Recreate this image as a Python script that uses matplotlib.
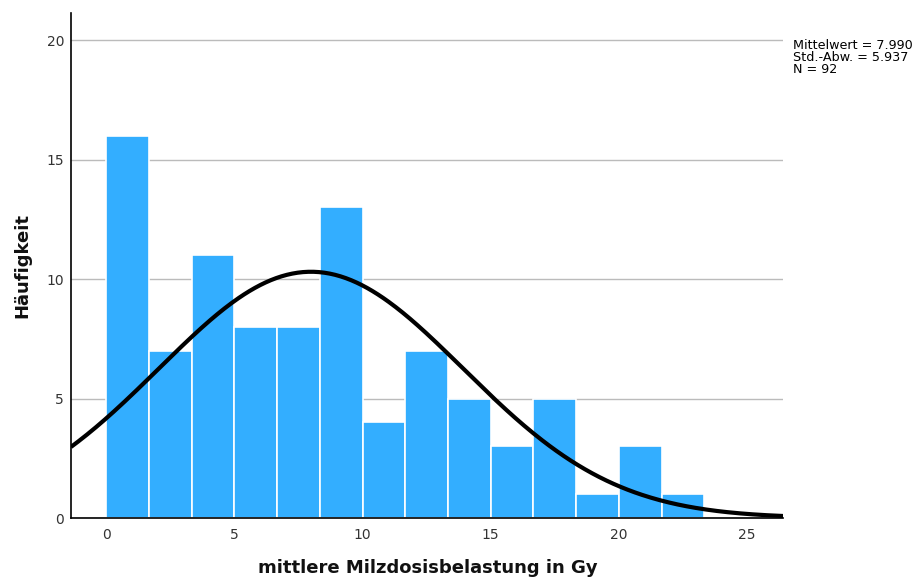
import numpy as np
import matplotlib
matplotlib.use("Agg")
import matplotlib.pyplot as plt

# Histogram counts of mean spleen dose (Gy)
bin_start = 0.0
bin_width = 5.0 / 3.0
counts = [16, 7, 11, 8, 8, 13, 4, 7, 5, 3, 5, 1, 3, 1]
mean_val = 7.990
std_val = 5.937
n_total = 92
x_ticks = [0, 5, 10, 15, 20, 25]
y_ticks = [0, 5, 10, 15, 20]

plt.rcParams['font.family'] = ['DejaVu Sans']

fig = plt.figure(figsize=(9.17, 5.78), dpi=100)
ax = fig.add_axes([0.0774, 0.1038, 0.7765, 0.8737])

edges = bin_start + bin_width * np.arange(len(counts))
ax.bar(edges, counts, width=bin_width, align='edge', color='#33aeff',
       edgecolor='white', linewidth=1.2, zorder=2)

xmin, xmax = -1.37, 26.4
xs = np.linspace(xmin, xmax, 400)
scale = n_total * bin_width
pdf = scale / (std_val * np.sqrt(2 * np.pi)) * np.exp(-0.5 * ((xs - mean_val) / std_val) ** 2)
ax.plot(xs, pdf, color='black', linewidth=3, zorder=3, solid_capstyle='butt')

ax.set_xlim(xmin, xmax)
ax.set_ylim(0, 21.13)
ax.set_xticks(x_ticks)
ax.set_yticks(y_ticks)
ax.tick_params(axis='both', length=0, labelsize=10, colors='#333333')
ax.tick_params(axis='x', pad=7)
ax.tick_params(axis='y', pad=5)
ax.yaxis.grid(True, color='#bbbbbb', linewidth=1, zorder=0)
ax.set_axisbelow(True)
for s in ['top', 'right']:
    ax.spines[s].set_visible(False)
for s in ['left', 'bottom']:
    ax.spines[s].set_linewidth(1.2)
    ax.spines[s].set_color('black')

fig.text(428 / 917, 1 - 568 / 578, 'mittlere Milzdosisbelastung in Gy',
         fontsize=13, fontweight='bold', ha='center', va='center', color='#111111')
fig.text(22 / 917, 1 - 265 / 578, 'Häufigkeit', rotation=90,
         fontsize=13, fontweight='bold', ha='center', va='center', color='#111111')

fig.text(793 / 917, 1 - 39 / 578,
         f'Mittelwert = {mean_val:.3f}\nStd.-Abw. = {std_val:.3f}\nN = {n_total}',
         fontsize=9.2, va='top', ha='left', linespacing=0.9)

fig.savefig('out.png', dpi=100)
